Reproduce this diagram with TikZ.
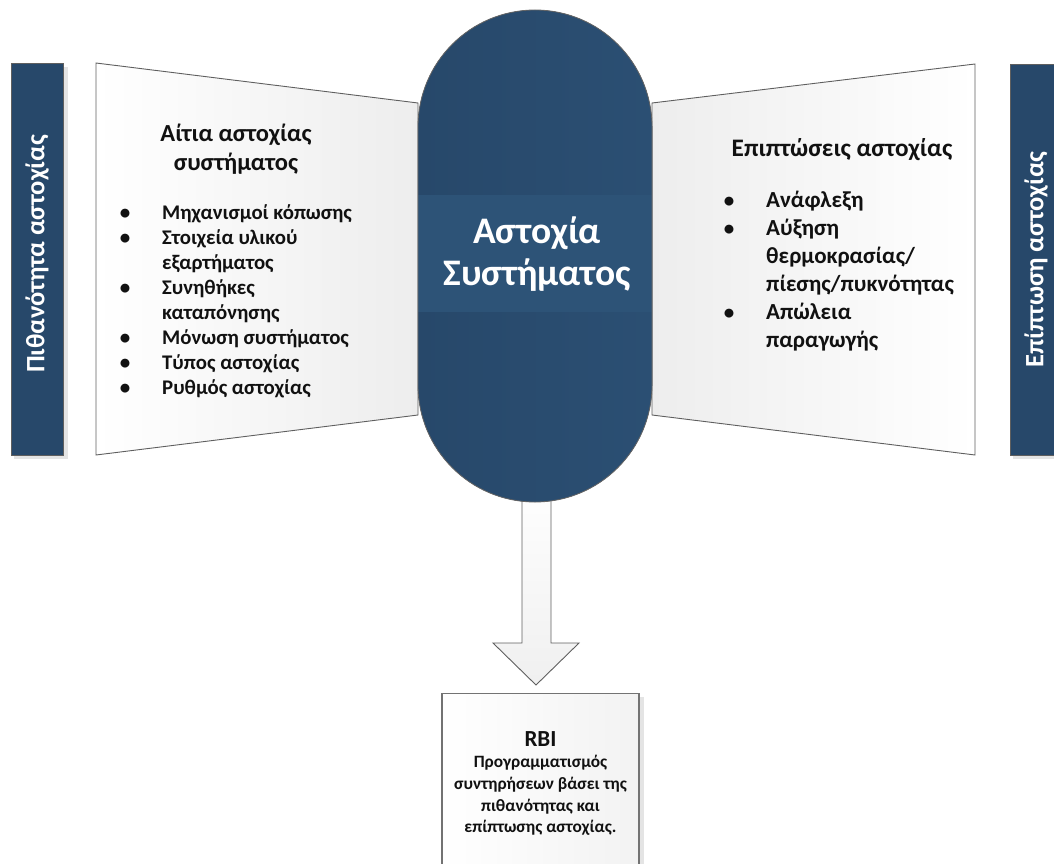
\documentclass[tikz,border=0pt]{standalone}
\usepackage{fontspec}
\setmainfont{Carlito}
\usetikzlibrary{calc}

\definecolor{navy}{HTML}{27486A}
\definecolor{navylite}{HTML}{2B4F73}
\definecolor{navyband}{HTML}{2D5377}
\definecolor{edgegray}{HTML}{5F5F5F}
\definecolor{shadowgray}{HTML}{E4E4E4}
\definecolor{ink}{HTML}{111111}

\begin{document}
\begin{tikzpicture}[x=1pt,y=-1pt,
  bar/.style={draw=edgegray, line width=0.8pt, fill=navy, text=white,
    font=\fontsize{26.5}{30}\selectfont\bfseries, inner sep=0pt},
  panel/.style={draw=edgegray, line width=0.9pt, left color=white, right color=black!7},
  heading/.style={text=ink, font=\fontsize{24.5}{28}\selectfont\bfseries, inner sep=0pt, anchor=base},
  leftitem/.style={text=ink, font=\fontsize{20.8}{24}\selectfont\bfseries, inner sep=0pt, anchor=base west},
  rightitem/.style={text=ink, font=\fontsize{23}{26}\selectfont\bfseries, inner sep=0pt, anchor=base west},
  dot/.style={text=ink, font=\fontsize{21}{24}\selectfont\bfseries, inner sep=0pt, anchor=base},
  core/.style={text=white, font=\fontsize{37.5}{42}\selectfont\bfseries, inner sep=0pt, anchor=base},
  blockarrow/.style={draw=edgegray, line width=0.9pt, top color=white, bottom color=black!6},
  rbibox/.style={draw=black!55, line width=1.2pt, left color=white, right color=black!5, inner sep=0pt},
  rbitext/.style={text=ink, font=\fontsize{17.3}{20}\selectfont\bfseries, inner sep=0pt, anchor=base},
]
\useasboundingbox (0,0) rectangle (1054,864);

% ---- side bars (probability / consequence) ----
\fill[shadowgray] (14,67) rectangle (68,459);
\node[bar, minimum width=392pt, minimum height=52pt, rotate=90] (pbar) at (37,259) {};
\node[bar, draw=none, fill=none, rotate=90] (pbartext) at (37,254) {Πιθανότητα αστοχίας};
\fill[shadowgray] (1013,68) rectangle (1060,459);
\node[bar, minimum width=391pt, minimum height=52pt, rotate=90] (cbar) at (1036,259.5) {Επίπτωση αστοχίας};

% ---- side panels ----
\draw[panel] (96,63) -- (418,103) -- (418,415) -- (96,455) -- cycle;
\draw[panel, left color=black!7, right color=white] (652,103) -- (975,64) -- (975,455) -- (652,415) -- cycle;

% ---- block arrow down to RBI ----
\coordinate (tip) at (536,685);
\draw[blockarrow] (522,480) -- (522,643) -- (493,643) -- (tip) -- (579,643) -- (551,643) -- (551,480) -- cycle;

% ---- central capsule ----
\fill[left color=navy, right color=navylite]
  (418,127) arc[start angle=180, end angle=360, radius=117] -- (652,385)
  arc[start angle=0, end angle=180, radius=117] -- cycle;
\begin{scope}
  \clip (418,127) arc[start angle=180, end angle=360, radius=117] -- (652,385)
    arc[start angle=0, end angle=180, radius=117] -- cycle;
  \fill[navyband] (418,195) rectangle (652,312);
\end{scope}
\draw[black!60, line width=0.8pt]
  (418,127) arc[start angle=180, end angle=360, radius=117] -- (652,385)
  arc[start angle=0, end angle=180, radius=117] -- cycle;
\node[core] (fail1) at (537,243) {Αστοχία};
\node[core] (fail2) at (537,285) {Συστήματος};

% ---- causes ----
\node[heading] (causeh1) at (236,141) {Αίτια αστοχίας};
\node[heading] (causeh2) at (236,170) {συστήματος};
\foreach \y/\t/\b [count=\i] in {219/Μηχανισμοί κόπωσης/1, 244/Στοιχεία υλικού/1, 269/εξαρτήματος/0,
    294/Συνηθήκες/1, 319/καταπόνησης/0, 344/Μόνωση συστήματος/1, 369/Τύπος αστοχίας/1, 394/Ρυθμός αστοχίας/1}{
  \node[leftitem] (cause\i) at (162,\y) {\t};
  \ifnum\b=1 \node[dot] (causedot\i) at (125,\y) {•}; \fi
}

% ---- consequences ----
\node[heading, font=\fontsize{25.2}{28}\selectfont\bfseries] (effh) at (842,157) {Επιπτώσεις αστοχίας};
\foreach \y/\t/\b [count=\i] in {207/Ανάφλεξη/1, 235/Αύξηση/1, 263/{θερμοκρασίας/}/0,
    291/{πίεσης/πυκνότητας}/0, 319/Απώλεια/1, 347/παραγωγής/0}{
  \node[rightitem] (eff\i) at (766,\y) {\t};
  \ifnum\b=1 \node[dot] (effdot\i) at (729,\y) {•}; \fi
}

% ---- RBI box ----
\fill[shadowgray] (639,697) rectangle (644,870);
\node[rbibox, anchor=north, minimum width=197pt, minimum height=180pt] (rbi) at (540.5,693) {};
\node[rbitext, font=\fontsize{23}{28}\selectfont\bfseries] (rbit) at (540.5,746) {RBI};
\node[rbitext] (rbi1) at (540.5,767) {Προγραμματισμός};
\node[rbitext] (rbi2) at (540.5,789) {συντηρήσεων βάσει της};
\node[rbitext] (rbi3) at (540.5,811) {πιθανότητας και};
\node[rbitext] (rbi4) at (540.5,832) {επίπτωσης αστοχίας.};
\end{tikzpicture}
\end{document}
